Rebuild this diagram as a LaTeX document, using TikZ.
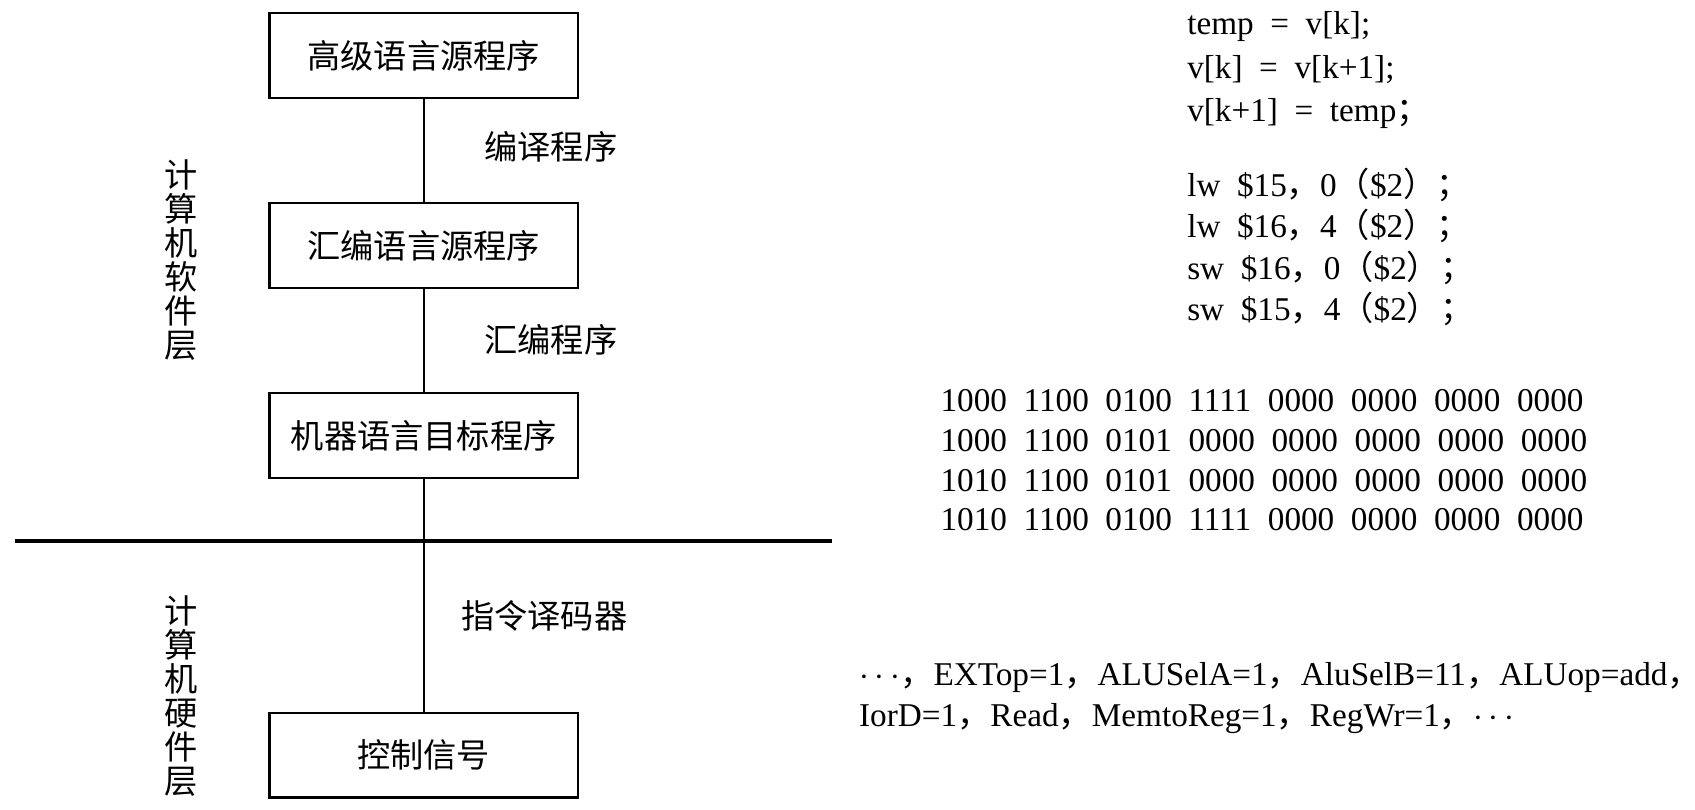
\documentclass[tikz,border=0pt]{standalone}
\usepackage{fontspec}
\setmainfont{Liberation Serif}
\newfontfamily\cjk{Noto Sans CJK SC}
\usetikzlibrary{positioning}
\newcommand{\fcomma}{{\cjk ，}}
\newcommand{\flp}{{\cjk （}}
\newcommand{\frp}{{\cjk ）}}
\newcommand{\fsemi}{{\cjk ；}}

\begin{document}
\begin{tikzpicture}[x=0.1mm,y=-0.1mm,
  prog/.style={draw,line width=0.6pt,minimum width=2.84cm,minimum height=0.78cm,inner sep=0pt,font={\cjk\fontsize{8.7}{10}\selectfont}},
  tool/.style={inner sep=0pt,font={\cjk\fontsize{8.7}{10}\selectfont}},
  layer/.style={inner sep=0pt,align=center,font={\cjk\fontsize{8.7}{8.9}\selectfont}},
  code/.style={inner sep=0pt,anchor=base west,font={\fontsize{8.7}{10}\selectfont}}]
  \useasboundingbox (0,0) rectangle (1560,745);
  % program levels
  \node[prog] (hl) at (390,51) {高级语言源程序};
  \node[prog] (asm) at (390,226) {汇编语言源程序};
  \node[prog] (mc) at (390,401) {机器语言目标程序};
  \node[prog] (ctl) at (390,695) {控制信号};
  \draw[line width=0.4pt] (hl) -- (asm);
  \draw[line width=0.4pt] (asm) -- (mc);
  \draw[line width=0.4pt] (mc) -- (ctl);
  \node[tool] (cc) at (507,135) {编译程序};
  \node[tool] (as) at (507,313) {汇编程序};
  \node[tool] (dec) at (501,567) {指令译码器};
  % software / hardware
  \coordinate (sepW) at (14,498);
  \coordinate (sepE) at (766,498);
  \draw[line width=1.2pt] (sepW) -- (sepE);
  \node[layer] (sw) at (167,239) {计\\算\\机\\软\\件\\层};
  \node[layer] (hw) at (167,641) {计\\算\\机\\硬\\件\\层};
  % source
  \node[code] (c1) at (1092,32) {temp~~=~~v[k];};
  \node[code] (c2) at (1092,72) {v[k]~~=~~v[k+1];};
  \node[code] (c3) at (1092,112) {v[k+1]~~=~~temp\fsemi};
  % assembly
  \node[code] (a1) at (1092,181) {lw~~\$15\fcomma 0\flp\$2\frp\fsemi};
  \node[code] (a2) at (1092,219) {lw~~\$16\fcomma 4\flp\$2\frp\fsemi};
  \node[code] (a3) at (1092,257) {sw~~\$16\fcomma 0\flp\$2\frp\fsemi};
  \node[code] (a4) at (1092,295) {sw~~\$15\fcomma 4\flp\$2\frp\fsemi};
  % machine code
  \node[code] (m1) at (865,379) {1000~~1100~~0100~~1111~~0000~~0000~~0000~~0000};
  \node[code] (m2) at (865,416) {1000~~1100~~0101~~0000~~0000~~0000~~0000~~0000};
  \node[code] (m3) at (865,452) {1010~~1100~~0101~~0000~~0000~~0000~~0000~~0000};
  \node[code] (m4) at (865,488) {1010~~1100~~0100~~1111~~0000~~0000~~0000~~0000};
  % control signals
  \node[code] (s1) at (790,631) {$\cdots$\fcomma EXTop=1\fcomma ALUSelA=1\fcomma AluSelB=11\fcomma ALUop=add\fcomma};
  \node[code] (s2) at (790,669) {IorD=1\fcomma Read\fcomma MemtoReg=1\fcomma RegWr=1\fcomma $\cdots$};
\end{tikzpicture}
\end{document}
